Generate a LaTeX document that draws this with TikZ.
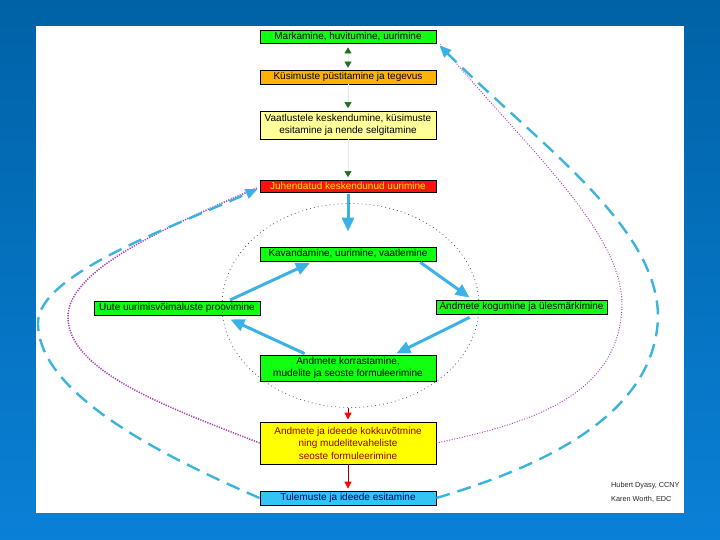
\documentclass[tikz,border=0pt]{standalone}
\usepackage{fontspec}
\setmainfont{Liberation Sans}
\usetikzlibrary{arrows.meta}
\definecolor{bgtop}{HTML}{0062A6}
\definecolor{bgbot}{HTML}{0A80D6}
\definecolor{boxgreen}{HTML}{11FF11}
\definecolor{boxorange}{HTML}{FFB300}
\definecolor{boxpale}{HTML}{FFFF99}
\definecolor{boxred}{HTML}{FF1010}
\definecolor{boxyellow}{HTML}{FFFF00}
\definecolor{boxblue}{HTML}{33C4F4}
\definecolor{txtred}{HTML}{990000}
\definecolor{txtnavy}{HTML}{000070}
\definecolor{cycblue}{HTML}{3AB2E6}
\definecolor{loopblue}{HTML}{3AB4DC}
\definecolor{loopmag}{HTML}{A83CB0}
\definecolor{faintln}{HTML}{E2EEE2}
\definecolor{darkgreen}{HTML}{1A701A}
\definecolor{ellcol}{HTML}{2E4060}
\newcommand\boxfont{\fontsize{10}{12.5}\selectfont}
\begin{document}
\begin{tikzpicture}[x=1pt,y=-1pt,
  stagebox/.style={draw=black, line width=0.8pt, minimum width=176, inner sep=0pt,
     font=\boxfont, align=center, text=black},
  cyc/.style={draw=cycblue, line width=3pt, -{Triangle[length=14pt,width=12pt]}},
  thinlink/.style={draw=faintln, line width=0.6pt},
  bluedash/.style={draw=loopblue, line width=2.4pt, dash pattern=on 14pt off 8pt},
  magdot/.style={draw=loopmag, line width=1.5pt, dash pattern=on 1.2pt off 1.3pt},
  redlink/.style={draw=txtred, line width=0.8pt, -{Triangle[length=7pt,width=7pt,color=red,fill=red]}}
]
\shade[top color=bgtop, bottom color=bgbot] (0,0) rectangle (720,540);
\useasboundingbox (0,0) rectangle (720,540);
\fill[white] (36,26) rectangle (684,513);

% cycle arrow partly hidden under box 5
\draw[cyc] (230,300) -- (310,263);

% boxes
\node[stagebox, fill=boxgreen, minimum height=13] (n1) at (348,36.5) {Markamine, huvitumine, uurimine};
\node[stagebox, fill=boxorange, minimum height=14] (n2) at (348,77) {Küsimuste püstitamine ja tegevus};
\node[stagebox, fill=boxpale, minimum height=28] (n3) at (348,125) {Vaatlustele keskendumine, küsimuste\\[-0.5pt]esitamine ja nende selgitamine};
\node[stagebox, fill=boxred, minimum height=12, text=yellow] (n4) at (348,186) {Juhendatud keskendunud uurimine};
\node[stagebox, fill=boxgreen, minimum height=14] (n5) at (348,254) {Kavandamine, uurimine, vaatlemine};
\node[stagebox, fill=boxgreen, minimum height=14, minimum width=166] (n6) at (177,308) {Uute uurimisvõimaluste proovimine};
\node[stagebox, fill=boxgreen, minimum height=14, minimum width=171] (n7) at (521.5,307) {Andmete kogumine ja ülesmärkimine};
\node[stagebox, fill=boxgreen, minimum height=26] (n8) at (348,368) {Andmete korrastamine,\\mudelite ja seoste formuleerimine};
\node[stagebox, fill=boxyellow, minimum height=42, text=txtred] (n9) at (348,443) {Andmete ja ideede kokkuvõtmine\\ning mudelitevaheliste\\seoste formuleerimine};
\node[stagebox, fill=boxblue, minimum height=14, text=txtnavy] (n10) at (348,498) {Tulemuste ja ideede esitamine};

\node[anchor=west, inner sep=0pt, font=\fontsize{7.3}{8}\selectfont, text=black!85] (c1) at (611,486) {Hubert Dyasy, CCNY};
\node[anchor=west, inner sep=0pt, font=\fontsize{7.3}{8}\selectfont, text=black!85] (c2) at (611,499) {Karen Worth, EDC};

% faint links with green tips
\draw[thinlink, {Triangle[length=6pt,width=7pt,color=darkgreen,fill=darkgreen]}-{Triangle[length=6pt,width=7pt,color=darkgreen,fill=darkgreen]}] ([yshift=-4pt]n1.south) -- ([yshift=2pt]n2.north);
\draw[thinlink, -{Triangle[length=6pt,width=7pt,color=darkgreen,fill=darkgreen]}] (n2.south) -- ([yshift=2.5pt]n3.north);
\draw[thinlink, -{Triangle[length=6pt,width=7pt,color=darkgreen,fill=darkgreen]}] (n3.south) -- ([yshift=2.5pt]n4.north);

% main blue arrow
\draw[cyc] ([yshift=-2pt]n4.south) -- ([yshift=15pt]n5.north);

% cycle
\draw[cyc] ([xshift=-16pt,yshift=-1pt]n5.south east) -- ([xshift=34pt,yshift=2pt]n7.north west);
\draw[cyc] ([xshift=34pt,yshift=-3pt]n7.south west) -- ([xshift=-40pt,yshift=1pt]n8.north east);
\draw[cyc] ([xshift=45pt,yshift=1pt]n8.north west) -- ([xshift=-30pt,yshift=-4pt]n6.south east);

% dotted ellipse
\draw[ellcol, line width=0.7pt, dash pattern=on 0.8pt off 3.2pt] (350.5,305.5) ellipse [x radius=128.5, y radius=102];
\coordinate (ebot) at (348,408);

% red links
\draw[redlink] (ebot) -- ([yshift=2pt]n9.north);
\draw[redlink] (n9.south) -- ([yshift=2pt]n10.north);

% left loops
\draw[magdot] (n9.west) .. controls (170,408) and (68,372) .. (68,317)
   .. controls (68,268) and (172,225) .. ([xshift=-3pt,yshift=-2pt]n4.west);
\draw[bluedash, -{Triangle[length=12pt,width=10pt,color=cycblue,fill=cycblue]}] (n10.west) .. controls (160,455) and (38,393) .. (38,323)
   .. controls (38,275) and (165,230) .. ([xshift=-2pt,yshift=-3pt]n4.west);

% right loops
\draw[magdot, line width=0.9pt, dash pattern=on 1pt off 1.6pt] (n9.east) .. controls (520,425) and (620,400) .. (622,305)
   .. controls (622,230) and (525,147) .. ([xshift=4pt,yshift=-1pt]n1.south east);
\draw[bluedash, -{Triangle[length=12pt,width=10pt,color=cycblue,fill=cycblue]}] (n10.east) .. controls (530,470) and (655,420) .. (658,317)
   .. controls (658,227) and (540,145) .. ([xshift=3pt,yshift=-2pt]n1.south east);
\end{tikzpicture}
\end{document}
